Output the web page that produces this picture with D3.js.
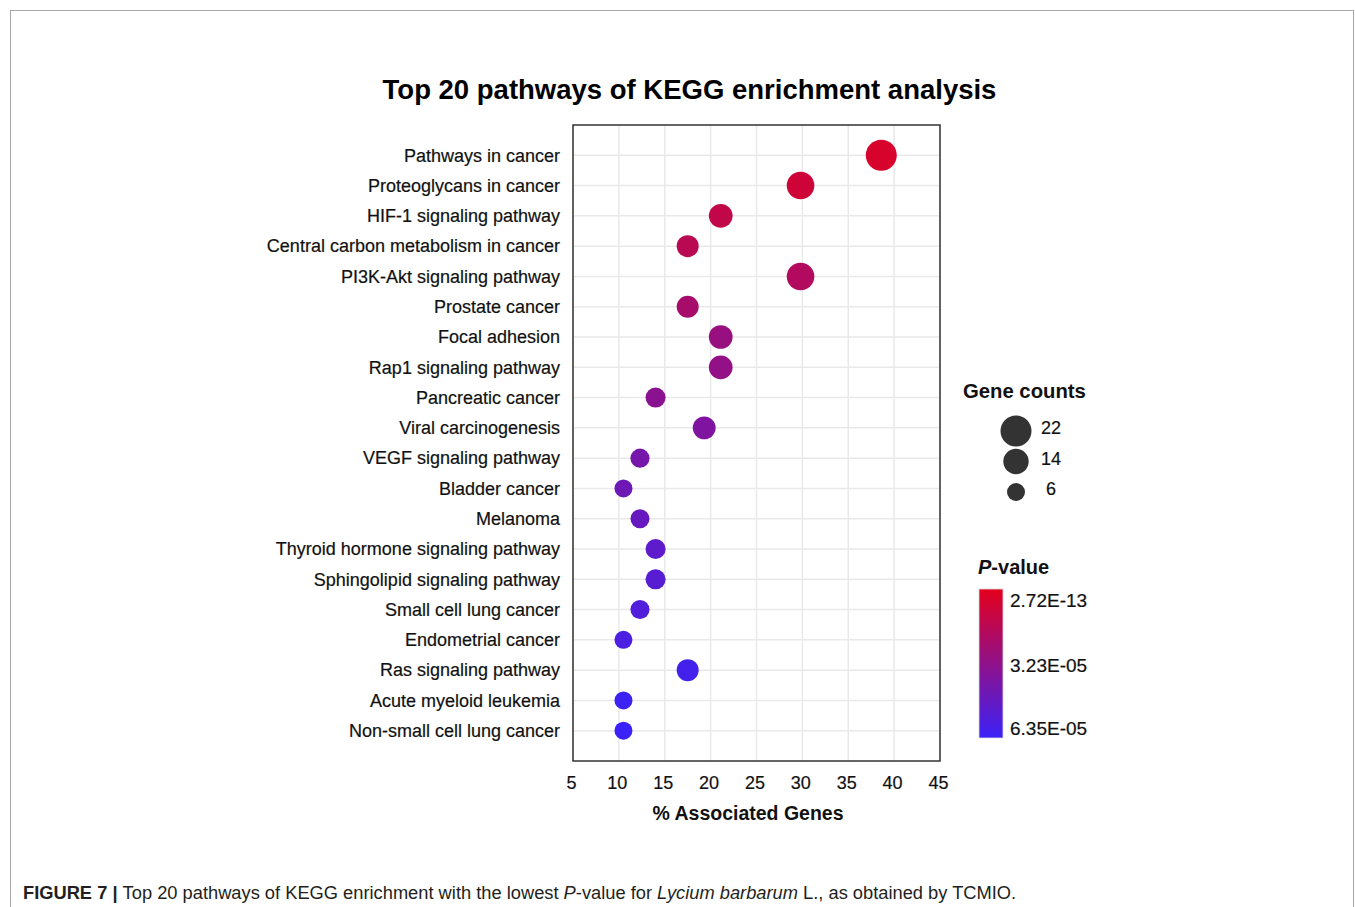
<!DOCTYPE html>
<html>
<head>
<meta charset="utf-8">
<script src="https://cdn.jsdelivr.net/npm/d3@7"></script>
<style>
  html, body { margin: 0; padding: 0; background: #fff; }
  svg { display: block; font-family: "Liberation Sans", Arial, Helvetica, sans-serif; }
</style>
</head>
<body>
<svg id="chart" width="1355" height="907"></svg>
<script>
// ---------------- data ----------------
const pathways = [
  "Pathways in cancer",
  "Proteoglycans in cancer",
  "HIF-1 signaling pathway",
  "Central carbon metabolism in cancer",
  "PI3K-Akt signaling pathway",
  "Prostate cancer",
  "Focal adhesion",
  "Rap1 signaling pathway",
  "Pancreatic cancer",
  "Viral carcinogenesis",
  "VEGF signaling pathway",
  "Bladder cancer",
  "Melanoma",
  "Thyroid hormone signaling pathway",
  "Sphingolipid signaling pathway",
  "Small cell lung cancer",
  "Endometrial cancer",
  "Ras signaling pathway",
  "Acute myeloid leukemia",
  "Non-small cell lung cancer"
];
const percentGenes = [38.6, 29.8, 21.1, 17.5, 29.8, 17.5, 21.1, 21.1, 14.0, 19.3,
                      12.3, 10.5, 12.3, 14.0, 14.0, 12.3, 10.5, 17.5, 10.5, 10.5];
const geneCounts   = [22, 17, 12, 10, 17, 10, 12, 12, 8, 11,
                      7, 6, 7, 8, 8, 7, 6, 10, 6, 6];
const pValues      = [5.0e-6, 8.3e-6, 1.27e-5, 1.59e-5, 1.9e-5, 2.29e-5, 2.86e-5, 3.05e-5, 3.37e-5, 3.81e-5,
                      4.13e-5, 4.45e-5, 4.7e-5, 5.08e-5, 5.27e-5, 5.52e-5, 5.72e-5, 6.03e-5, 6.22e-5, 6.35e-5];
const xTicks = [5, 10, 15, 20, 25, 30, 35, 40, 45];
const sizeLegendCounts = [22, 14, 6];
const pLegendValues = [2.72e-13, 3.23e-05, 6.35e-05];
const pLegendLabels = ["2.72E-13", "3.23E-05", "6.35E-05"];

// ---------------- layout ----------------
const svg = d3.select("#chart");
const plot = { left: 573, right: 940, top: 125, bottom: 761 };

// outer figure frame
svg.append("rect")
  .attr("x", 10.5).attr("y", 10.5).attr("width", 1343).attr("height", 1000)
  .attr("fill", "none").attr("stroke", "#a8a8a8").attr("stroke-width", 1);

// scales
const x = d3.scaleLinear().domain([5, 45]).range([plot.left, plot.right]);
const y = d3.scalePoint().domain(pathways).range([plot.top, plot.bottom]).padding(1);
const r = d3.scaleRadial().domain([6, 22]).range([9, 15.5]);
const color = d3.scaleLinear().domain([2.72e-13, 6.35e-05]).range(["#e4001c", "#3b22f8"]).interpolate(d3.interpolateRgb);

// title
svg.append("text")
  .attr("x", 689.5).attr("y", 99)
  .attr("text-anchor", "middle")
  .attr("font-size", 27.5).attr("font-weight", "bold").attr("fill", "#000")
  .text("Top 20 pathways of KEGG enrichment analysis");

// gridlines
const grid = svg.append("g");
grid.selectAll("line.v").data(xTicks).join("line")
  .attr("x1", d => x(d)).attr("x2", d => x(d))
  .attr("y1", plot.top).attr("y2", plot.bottom)
  .attr("stroke", "#e9e9e9").attr("stroke-width", 1.5);
grid.selectAll("line.h").data(pathways).join("line")
  .attr("x1", plot.left).attr("x2", plot.right)
  .attr("y1", d => y(d)).attr("y2", d => y(d))
  .attr("stroke", "#e9e9e9").attr("stroke-width", 1.5);

// points
const rows = pathways.map((p, i) => ({ name: p, pct: percentGenes[i], n: geneCounts[i], p: pValues[i] }));
svg.append("g").selectAll("circle").data(rows).join("circle")
  .attr("cx", d => x(d.pct)).attr("cy", d => y(d.name))
  .attr("r", d => r(d.n))
  .attr("fill", d => color(d.p));

// frame
svg.append("rect")
  .attr("x", plot.left).attr("y", plot.top)
  .attr("width", plot.right - plot.left).attr("height", plot.bottom - plot.top)
  .attr("fill", "none").attr("stroke", "#333").attr("stroke-width", 1.5);

// y axis labels
const yAxis = d3.axisLeft(y).tickSize(0).tickPadding(13);
const yg = svg.append("g").attr("transform", `translate(${plot.left},0)`).call(yAxis);
yg.select(".domain").remove();
yg.selectAll("text").attr("font-size", 18).attr("fill", "#111")
  .attr("stroke", "#111").attr("stroke-width", 0.2)
  .attr("font-family", "'Liberation Sans', Arial, sans-serif");

// x axis labels
const xAxis = d3.axisBottom(x).tickValues(xTicks).tickSize(0).tickPadding(15);
const xg = svg.append("g").attr("transform", `translate(-2,${plot.bottom})`).call(xAxis);
xg.select(".domain").remove();
xg.selectAll("text").attr("font-size", 18).attr("fill", "#111")
  .attr("stroke", "#111").attr("stroke-width", 0.2)
  .attr("font-family", "'Liberation Sans', Arial, sans-serif");

// x axis title
svg.append("text")
  .attr("x", 748).attr("y", 820).attr("text-anchor", "middle")
  .attr("font-size", 19.5).attr("font-weight", "bold").attr("fill", "#111")
  .text("% Associated Genes");

// size legend
svg.append("text")
  .attr("x", 963).attr("y", 398)
  .attr("font-size", 20.3).attr("font-weight", "bold").attr("fill", "#111")
  .text("Gene counts");
const sizeY = d3.scalePoint().domain(sizeLegendCounts).range([431, 492]);
const sl = svg.append("g").selectAll("g").data(sizeLegendCounts).join("g");
sl.append("circle")
  .attr("cx", 1016).attr("cy", d => sizeY(d)).attr("r", d => r(d)).attr("fill", "#333");
sl.append("text")
  .attr("x", 1051).attr("y", d => sizeY(d) - 3).attr("dy", "0.35em")
  .attr("text-anchor", "middle").attr("font-size", 18).attr("fill", "#111")
  .attr("stroke", "#111").attr("stroke-width", 0.2)
  .text(d => d);

// p-value legend
const pt = svg.append("text").attr("x", 978).attr("y", 574)
  .attr("font-size", 20).attr("font-weight", "bold").attr("fill", "#111");
pt.append("tspan").attr("font-style", "italic").text("P");
pt.append("tspan").text("-value");

const defs = svg.append("defs");
const grad = defs.append("linearGradient").attr("id", "pgrad")
  .attr("x1", 0).attr("y1", 0).attr("x2", 0).attr("y2", 1);
grad.append("stop").attr("offset", "0%").attr("stop-color", color(pLegendValues[0]));
grad.append("stop").attr("offset", "100%").attr("stop-color", color(pLegendValues[2]));
svg.append("rect")
  .attr("x", 979).attr("y", 589).attr("width", 24).attr("height", 149)
  .attr("fill", "url(#pgrad)").attr("stroke", "#ddd").attr("stroke-width", 0.8);
const pScale = d3.scaleLinear().domain([pLegendValues[0], pLegendValues[2]]).range([600, 728]);
svg.append("g").selectAll("text").data(pLegendValues).join("text")
  .attr("x", 1010).attr("y", d => pScale(d)).attr("dy", "0.35em")
  .attr("font-size", 19).attr("fill", "#111")
  .attr("stroke", "#111").attr("stroke-width", 0.2)
  .text((d, i) => pLegendLabels[i]);

// caption
const cap = svg.append("text").attr("x", 23).attr("y", 899)
  .attr("font-family", "'Liberation Sans Narrow', 'Arial Narrow', 'Liberation Sans', sans-serif")
  .attr("font-size", 18.3).attr("fill", "#231f20");
cap.append("tspan").attr("font-weight", "bold").text("FIGURE 7 | ");
cap.append("tspan").text("Top 20 pathways of KEGG enrichment with the lowest ");
cap.append("tspan").attr("font-style", "italic").text("P");
cap.append("tspan").text("-value for ");
cap.append("tspan").attr("font-style", "italic").text("Lycium barbarum");
cap.append("tspan").text(" L., as obtained by TCMIO.");
</script>
</body>
</html>
